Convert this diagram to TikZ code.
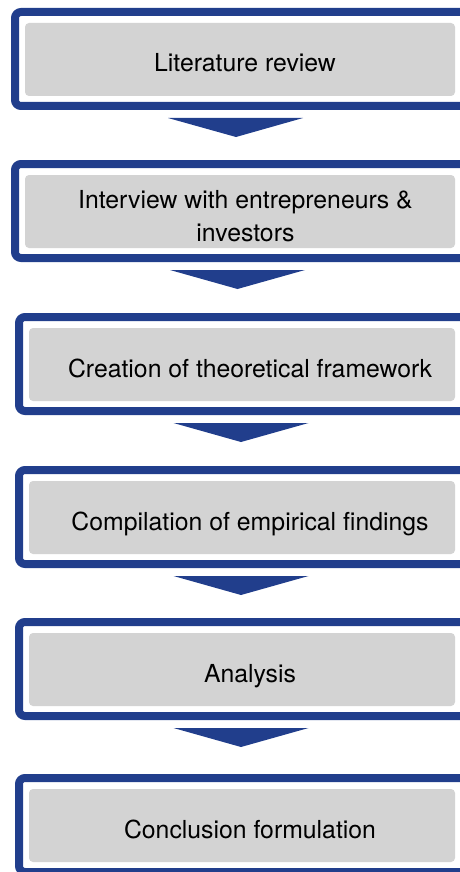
\documentclass[tikz,border=0pt]{standalone}
\usepackage{fontspec}
\setmainfont{TeX Gyre Heros}
\usetikzlibrary{calc}
\definecolor{stepblue}{RGB}{33,62,140}
\definecolor{stepgrey}{RGB}{211,211,211}

\begin{document}
\begin{tikzpicture}[x=1pt, y=-1pt,
  outerbox/.style={draw=stepblue, line width=8pt, rounded corners=6pt, outer sep=0pt, minimum height=94pt},
  panel/.style={fill=stepgrey, rounded corners=4pt, inner sep=0pt, minimum height=73pt},
  steptext/.style={font=\fontsize{24.8}{33}\selectfont, anchor=base, inner sep=0pt},
  chevron/.style={fill=stepblue}]

\useasboundingbox (0,0) rectangle (460,872);
\clip (0,0) rectangle (460,872);

%Literature review box
\node [outerbox, minimum width=455pt] (review) at (242.5,59) {};
\node [panel, minimum width=430pt] (reviewpanel) at (240,59.5) {};
\node [steptext] (reviewtext) at (245,72) {Literature review};

%Interview box
\node [outerbox, minimum width=455pt] (interview) at (242.5,211) {};
\node [panel, minimum width=430pt] (interviewpanel) at (240,211.5) {};
\node [steptext, anchor=center, align=center] (interviewtext) at (245.5,216.5) {Interview with entrepreneurs \&\\investors};

%Framework box
\node [outerbox, minimum width=451pt] (framework) at (244.5,364) {};
\node [panel, minimum width=426pt] (frameworkpanel) at (242,364.5) {};
\node [steptext] (frameworktext) at (250,377) {Creation of theoretical framework};

%Empirical findings box
\node [outerbox, minimum width=451pt] (findings) at (244.5,517) {};
\node [panel, minimum width=426pt] (findingspanel) at (242,517.5) {};
\node [steptext] (findingstext) at (250,530) {Compilation of empirical findings};

%Analysis box
\node [outerbox, minimum width=451pt] (analysis) at (244.5,669) {};
\node [panel, minimum width=426pt] (analysispanel) at (242,669.5) {};
\node [steptext] (analysistext) at (250,682) {Analysis};

%Conclusion box
\node [outerbox, minimum width=451pt] (conclusion) at (244.5,825) {};
\node [panel, minimum width=426pt] (conclusionpanel) at (242,825.5) {};
\node [steptext] (conclusiontext) at (250,838) {Conclusion formulation};

%Chevrons between the steps
\fill [chevron] ($(review.south)+(-74.5,12)$) -- ++(135,0) -- ($(review.south)+(-6.5,31)$) -- cycle;
\fill [chevron] ($(interview.south)+(-72.5,12)$) -- ++(135,0) -- ($(interview.south)+(-5,31)$) -- cycle;
\fill [chevron] ($(framework.south)+(-71,12)$) -- ++(135,0) -- ($(framework.south)+(-3.5,31)$) -- cycle;
\fill [chevron] ($(findings.south)+(-71,12)$) -- ++(135,0) -- ($(findings.south)+(-3.5,31)$) -- cycle;
\fill [chevron] ($(analysis.south)+(-71,12)$) -- ++(135,0) -- ($(analysis.south)+(-3.5,31)$) -- cycle;

\end{tikzpicture}
\end{document}
